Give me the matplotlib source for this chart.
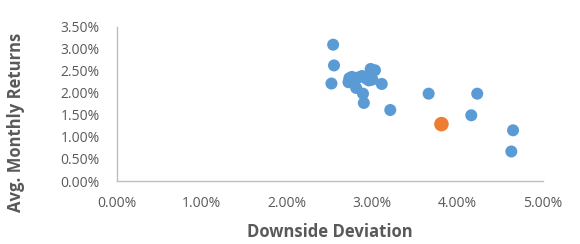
import matplotlib.pyplot as plt
from matplotlib.ticker import PercentFormatter

plt.rcParams['font.family'] = ['Open Sans', 'DejaVu Sans']

# Downside deviation (%) and avg. monthly returns (%) per fund
downside_dev = [2.54, 2.55, 2.52, 2.73, 2.72, 2.79, 2.81, 2.88, 2.89, 2.90,
                2.96, 2.98, 3.03, 3.11, 3.21, 3.66, 4.23, 4.16, 4.65, 4.63,
                2.76, 2.84, 2.93, 3.00]
monthly_ret = [3.09, 2.62, 2.21, 2.33, 2.24, 2.30, 2.11, 2.38, 1.98, 1.77,
               2.28, 2.54, 2.51, 2.20, 1.61, 1.98, 1.98, 1.49, 1.15, 0.67,
               2.36, 2.35, 2.32, 2.30]
# highlighted fund
hl_dev = [3.81]
hl_ret = [1.29]

fig = plt.figure(figsize=(5.8, 2.44), dpi=100)
ax = fig.add_axes([0.201, 0.258, 0.735, 0.633])

ax.scatter(downside_dev, monthly_ret, s=75, color='#5B9BD5', edgecolors='none', zorder=3)
ax.scatter(hl_dev, hl_ret, s=110, color='#ED7D31', edgecolors='none', zorder=4)

ax.set_xlim(0, 5)
ax.set_ylim(0, 3.5)
ax.set_xticks([0, 1, 2, 3, 4, 5])
ax.set_yticks([0, 0.5, 1, 1.5, 2, 2.5, 3, 3.5])
ax.xaxis.set_major_formatter(PercentFormatter(decimals=2))
ax.yaxis.set_major_formatter(PercentFormatter(decimals=2))
ax.tick_params(length=0, labelsize=10, colors='#595959')
ax.tick_params(axis='x', pad=11)
ax.tick_params(axis='y', pad=12)

for side in ['top', 'right']:
    ax.spines[side].set_visible(False)
for side in ['left', 'bottom']:
    ax.spines[side].set_color('#BFBFBF')
    ax.spines[side].set_linewidth(1)

fig.text(0.569, 0.049, 'Downside Deviation', fontsize=12, fontweight='bold',
         color='#595959', ha='center', va='center')
fig.text(0.028, 0.498, 'Avg. Monthly Returns', fontsize=12, fontweight='bold',
         color='#595959', ha='center', va='center', rotation=90)

fig.savefig('out.png', dpi=100)
